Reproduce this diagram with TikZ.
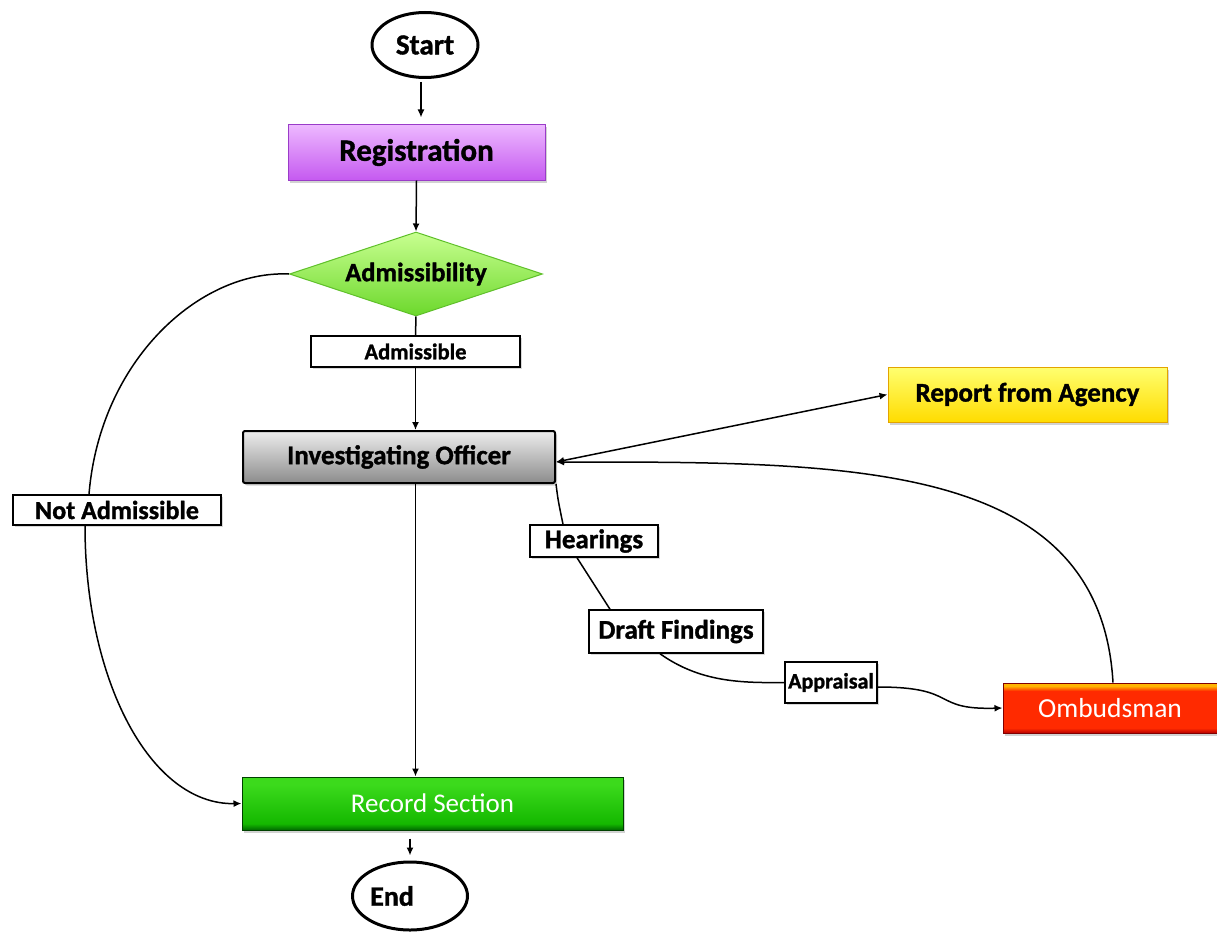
\documentclass[tikz,border=0pt]{standalone}
\usepackage{fontspec}
\setmainfont{Carlito}[BoldFeatures={FakeBold=1.2}]
\usetikzlibrary{shapes.geometric,arrows.meta,shadows}

\definecolor{regtop}{HTML}{EDB8FF}
\definecolor{regbot}{HTML}{C55AF0}
\definecolor{regline}{HTML}{9A3CC8}
\definecolor{diatop}{HTML}{C8FF90}
\definecolor{diabot}{HTML}{6CD82C}
\definecolor{dialine}{HTML}{5FC02A}
\definecolor{iotop}{HTML}{EDEDED}
\definecolor{iobot}{HTML}{8C8C8C}
\definecolor{reptop}{HTML}{FFFF70}
\definecolor{repbot}{HTML}{FFDC00}
\definecolor{repline}{HTML}{E3A400}
\definecolor{ombtop}{HTML}{FFB400}
\definecolor{ombmid}{HTML}{FF2A00}
\definecolor{ombbot}{HTML}{B80000}
\definecolor{rectop}{HTML}{3CDA1C}
\definecolor{recmid}{HTML}{14B800}
\definecolor{recbot}{HTML}{006A00}

% the visible part of a shading is its middle band, 25bp to 75bp
\pgfdeclareverticalshading{ombshade}{100bp}{%
  color(0bp)=(ombbot); color(25bp)=(ombbot); color(30bp)=(ombmid);
  color(67bp)=(ombmid); color(72bp)=(ombtop); color(100bp)=(ombtop)}
\pgfdeclareverticalshading{recshade}{100bp}{%
  color(0bp)=(recbot); color(25bp)=(recbot); color(31bp)=(recmid);
  color(68bp)=(rectop); color(100bp)=(rectop)}

\tikzset{
  x=1pt, y=-1pt,
  arr/.style={-{Latex[length=8pt,width=7pt]}, line width=1.5pt},
  wire/.style={line width=1.5pt},
  dblarr/.style={{Latex[length=8pt,width=7pt]}-{Latex[length=8pt,width=7pt]}, line width=1.5pt},
  box/.style={rectangle, inner sep=0pt, font=\bfseries,
    drop shadow={shadow xshift=2pt, shadow yshift=-2.5pt, opacity=0.35}},
  lbl/.style={rectangle, draw=black, line width=1.5pt, fill=white, inner sep=0pt,
    font=\bfseries, drop shadow={shadow xshift=1.5pt, shadow yshift=-1.5pt, opacity=0.3}},
  terminal/.style={ellipse, draw=black, line width=3pt, fill=white, inner sep=0pt,
    font=\bfseries},
}

\begin{document}
\begin{tikzpicture}
\useasboundingbox[fill=white] (0,0) rectangle (1217,931);

% terminals
\node[terminal, minimum width=106, minimum height=65, font=\bfseries\fontsize{29}{31}\selectfont]
  (start) at (425,45) {Start};
\node[terminal, minimum width=115, minimum height=68, font=\bfseries\fontsize{28}{30}\selectfont]
  (endn) at (410,896) {End\rule{36pt}{0pt}};

% process boxes
\node[box, draw=regline, line width=1pt, top color=regtop, bottom color=regbot,
  minimum width=257, minimum height=55, font=\bfseries\fontsize{31}{33}\selectfont]
  (reg) at (416.5,152.5) {Registration};

\node[diamond, aspect=3, inner sep=0pt, draw=dialine, line width=1pt, top color=diatop, bottom color=diabot,
  minimum width=253, minimum height=84, font=\bfseries\fontsize{26.5}{28}\selectfont]
  (dia) at (416,274) {Admissibility};

\node[box, draw=black, line width=2pt, rounded corners=2pt, top color=iotop, bottom color=iobot,
  minimum width=312, minimum height=52, font=\bfseries\fontsize{27}{29}\selectfont]
  (io) at (399,457) {Investigating Officer};

\node[box, draw=repline, line width=1pt, top color=reptop, bottom color=repbot,
  minimum width=279, minimum height=55, font=\bfseries\fontsize{27}{29}\selectfont]
  (rep) at (1027.5,394.5) {Report from Agency};

\node[box, draw=ombbot!70!black, line width=1pt, shading=ombshade,
  minimum width=214, minimum height=50, text=white,
  font=\fontsize{27.5}{29}\selectfont]
  (omb) at (1110,708) {Ombudsman};

\node[box, draw=recbot!60!black, line width=1pt, shading=recshade,
  minimum width=381, minimum height=53, text=white,
  font=\fontsize{27}{29}\selectfont]
  (rec) at (432.5,803.5) {Record Section};

% connector labels
\node[lbl, minimum width=209, minimum height=31, font=\bfseries\fontsize{22.5}{24}\selectfont]
  (adm) at (415.5,351.5) {Admissible};
\node[lbl, minimum width=208, minimum height=30, font=\bfseries\fontsize{26}{28}\selectfont]
  (notadm) at (117,510) {Not Admissible};
\node[lbl, minimum width=128, minimum height=32, font=\bfseries\fontsize{27}{29}\selectfont]
  (hear) at (594,541) {Hearings};
\node[lbl, minimum width=174, minimum height=43, font=\bfseries\fontsize{27}{29}\selectfont]
  (draft) at (676,631.5) {Draft Findings};
\node[lbl, minimum width=92, minimum height=41, font=\bfseries\fontsize{22}{24}\selectfont]
  (appr) at (831,682.5) {Appraisal};

% main flow
\draw[arr, shorten <=3pt, shorten >=7pt] ([xshift=-4pt]start.south) -- ([xshift=4.5pt]reg.north);
\draw[arr] (reg.south) -- (dia.north);
\draw[wire] (dia.south) -- (adm.north);
\draw[arr] (adm.south) -- (adm.south |- io.north);
\draw[arr] (io.south -| adm.south) -- (rec.north -| adm.south);
\draw[arr, shorten <=8pt, shorten >=5pt] (rec.south -| endn.north) -- (endn.north);

% rejection branch
\draw[wire] (dia.west) .. controls (200,270) and (100,360) .. ([xshift=-28pt]notadm.north);
\draw[arr] ([xshift=-32pt]notadm.south) .. controls (85,680) and (150,805) .. (rec.west);

% investigation loop
\draw[dblarr] ([yshift=-5pt]io.east) -- (rep.west);
\draw[arr] ([xshift=3pt]omb.north) .. controls (1100,460) and (850,462) .. ([yshift=-5pt]io.east);
\draw[wire] (io.south east) .. controls (558,500) .. ([xshift=-31pt]hear.north);
\draw[wire] ([xshift=-17pt]hear.south) -- ([xshift=-66pt]draft.north);
\draw[wire] ([xshift=-16pt]draft.south) .. controls (700,682) and (740,683) .. (appr.west);
\draw[arr] ([yshift=-4.5pt]appr.east) .. controls (960,687) and (930,710) .. (omb.west);
\end{tikzpicture}
\end{document}
